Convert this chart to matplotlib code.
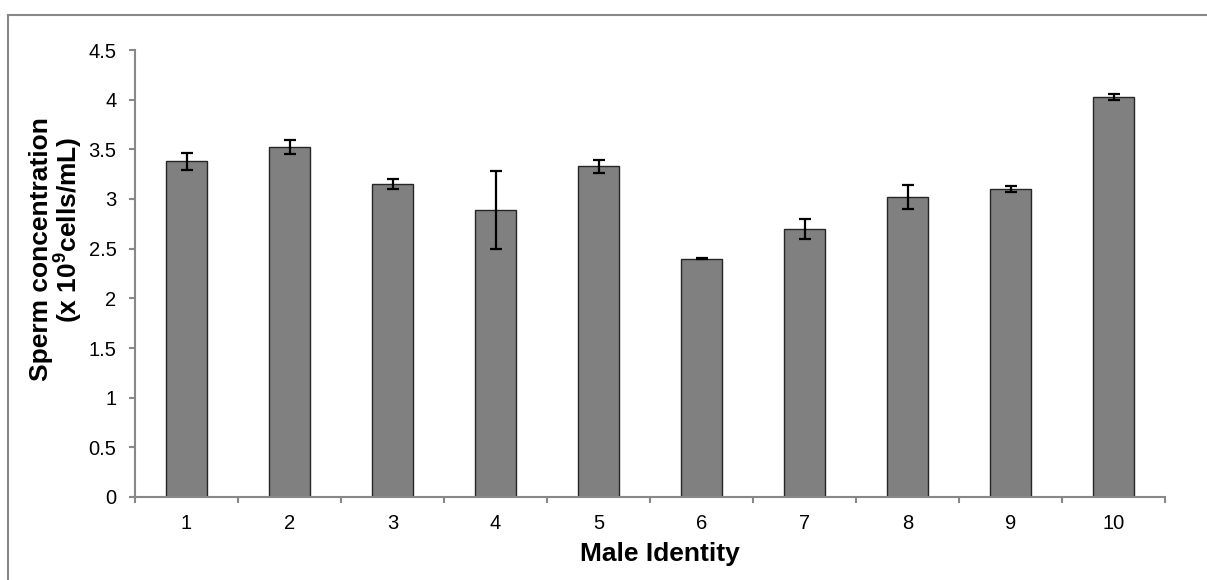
import matplotlib.pyplot as plt
from matplotlib.lines import Line2D
import numpy as np

plt.rcParams['font.family'] = ['Liberation Sans', 'DejaVu Sans']

# data
males = ['1', '2', '3', '4', '5', '6', '7', '8', '9', '10']
conc = [3.38, 3.52, 3.15, 2.89, 3.33, 2.40, 2.70, 3.02, 3.10, 4.03]
err = [0.085, 0.07, 0.05, 0.39, 0.065, 0.005, 0.10, 0.125, 0.03, 0.03]

W, H = 1207, 580
fig = plt.figure(figsize=(W / 100, H / 100), dpi=100)
ax = fig.add_axes([135 / W, (H - 497) / H, 1030 / W, 447 / H])

x = np.arange(len(males))
ax.bar(x, conc, width=0.40, color='#808080', edgecolor='#262626', linewidth=1.0,
       yerr=err, capsize=4.3, error_kw=dict(ecolor='black', elinewidth=1.6, capthick=1.6),
       zorder=2)

ax.set_xlim(-0.5, len(males) - 0.5)
ax.set_ylim(0, 4.5)
ax.set_yticks(np.arange(0, 4.51, 0.5))
ax.set_yticklabels(['0', '0.5', '1', '1.5', '2', '2.5', '3', '3.5', '4', '4.5'])
ax.set_xticks(x)
ax.set_xticklabels(males)
ax.set_xticks(np.arange(-0.5, len(males), 1), minor=True)
ax.tick_params(axis='x', which='major', length=0, pad=12.5, labelsize=14.5)
ax.tick_params(axis='x', which='minor', length=4.3, width=1.5, color='#888888', direction='out')
ax.tick_params(axis='y', length=4.3, width=1.5, color='#888888', direction='out', pad=9, labelsize=14.5)

for s in ['top', 'right']:
    ax.spines[s].set_visible(False)
for s in ['left', 'bottom']:
    ax.spines[s].set_color('#888888')
    ax.spines[s].set_linewidth(1.5)

ax.set_xlabel('Male Identity', fontsize=19, fontweight='bold')
ax.xaxis.set_label_coords(0.51, -0.1)

# y label, two lines placed as in the reference
fig.text(41 / W, 1 - 249 / H, 'Sperm concentration', rotation=90, fontsize=19,
         fontweight='bold', ha='center', va='center')
fig.text(68 / W, 1 - 230 / H, '(x 10$^{\\mathregular{9}}$cells/mL)', rotation=90, fontsize=19,
         fontweight='bold', ha='center', va='center')

# outer chart frame
fig.add_artist(Line2D([8 / W, 8 / W], [0, 1 - 15 / H], transform=fig.transFigure,
                      color='#888888', linewidth=1.5))
fig.add_artist(Line2D([8 / W, 1], [1 - 15 / H, 1 - 15 / H], transform=fig.transFigure,
                      color='#888888', linewidth=1.5))

fig.savefig('out.png', dpi=100)
